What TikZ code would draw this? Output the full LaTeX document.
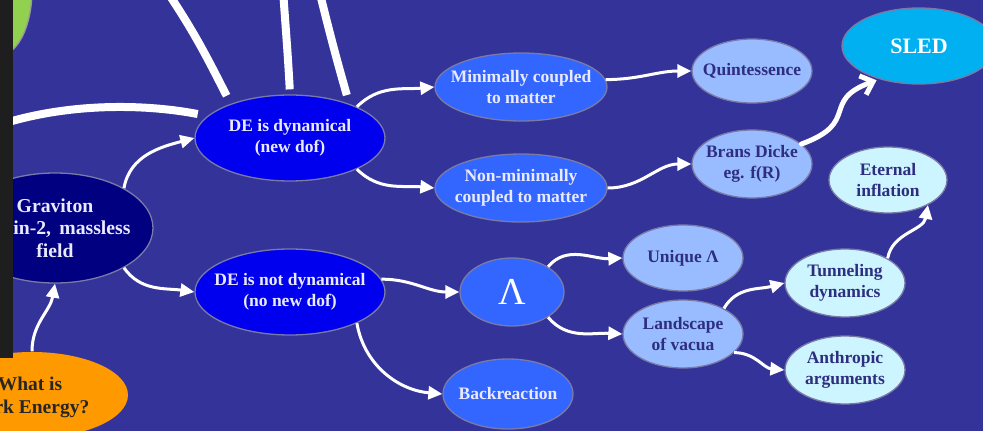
\documentclass[tikz,border=0pt]{standalone}
\usepackage{fontspec}
\setmainfont{Liberation Serif}[BoldFont={Liberation Serif Bold}]
\newfontfamily\dfont{Liberation Serif}[BoldFont={Liberation Serif Bold}]
\usetikzlibrary{shapes.geometric,arrows.meta}
\definecolor{bgc}{HTML}{333399}
\definecolor{navyc}{HTML}{000080}
\definecolor{deblue}{HTML}{0000EE}
\definecolor{midblue}{HTML}{3366FF}
\definecolor{lightblue}{HTML}{99BBFF}
\definecolor{lightcyan}{HTML}{CCF5FF}
\definecolor{sledc}{HTML}{00B0F0}
\definecolor{orangec}{HTML}{FF9900}
\definecolor{greenc}{HTML}{92D050}
\definecolor{txtlight}{HTML}{EAEAFF}
\definecolor{txtdark}{HTML}{2E2E80}
\definecolor{ndborder}{HTML}{7A7AA6}
\definecolor{panelc}{HTML}{1E1E1E}
\begin{document}
\begin{tikzpicture}[x=1pt,y=1pt,
  nd/.style={ellipse, draw=ndborder, line width=1.3pt, inner sep=0pt},
  tx/.style={inner sep=0pt, align=center, font=\dfont\bfseries\fontsize{17.5}{21.5}\selectfont},
  txl/.style={tx, text=txtlight},
  txd/.style={tx, text=txtdark},
  arr/.style={draw=white, line width=3pt, -{Triangle[length=14pt,width=13pt]}},
  fatline/.style={draw=white, line width=8pt}
]
\useasboundingbox (0,0) rectangle (983,-431);
\fill[bgc] (0,0) rectangle (983,-431);
\clip (0,0) rectangle (983,-431);

% partial green ellipse top-left
\draw[fill=greenc, draw=gray!80, line width=1.3pt] (0,10) ellipse [x radius=32pt, y radius=65pt];

% node shapes
\node[nd, fill=navyc, minimum width=196pt, minimum height=110pt] (grav) at (55,-228) {};
\node[nd, fill=orangec, draw=none, minimum width=192pt, minimum height=86pt] (wde) at (32,-395) {};
\node[nd, fill=deblue, minimum width=190pt, minimum height=86pt] (dedyn) at (290,-138) {};
\node[nd, fill=deblue, minimum width=190pt, minimum height=86pt] (dendyn) at (290,-292) {};
\node[nd, fill=midblue, minimum width=172pt, minimum height=68pt] (min) at (521,-87) {};
\node[nd, fill=midblue, minimum width=172pt, minimum height=68pt] (nonmin) at (521,-188) {};
\node[nd, fill=lightblue, minimum width=120pt, minimum height=64pt] (quint) at (752,-71) {};
\node[nd, fill=lightblue, minimum width=120pt, minimum height=68pt] (brans) at (752,-164) {};
\node[nd, fill=sledc, minimum width=154pt, minimum height=76pt] (sled) at (919,-46) {};
\node[nd, fill=lightcyan, minimum width=118pt, minimum height=66pt] (etern) at (888,-180) {};
\node[nd, fill=midblue, minimum width=104pt, minimum height=68pt] (lam) at (512,-292) {};
\node[nd, fill=lightblue, minimum width=120pt, minimum height=66pt] (uniq) at (683,-258) {};
\node[nd, fill=lightblue, minimum width=120pt, minimum height=68pt] (land) at (683,-334) {};
\node[nd, fill=midblue, minimum width=130pt, minimum height=70pt] (back) at (508,-394) {};
\node[nd, fill=lightcyan, minimum width=120pt, minimum height=68pt] (tun) at (845,-283) {};
\node[nd, fill=lightcyan, minimum width=120pt, minimum height=68pt] (anth) at (845,-370) {};

% node texts
\node[txl, font=\dfont\bfseries\fontsize{19.7}{22.5}\selectfont] (grav-t) at (grav) {Graviton\\\hspace*{12pt}Spin-2,\, massless\\field};
\node[tx, text=black!85, font=\dfont\bfseries\fontsize{19.5}{23}\selectfont] (wde-t) at ([xshift=-2pt,yshift=-2pt]wde) {What is\\Dark Energy?};
\node[txl] (dedyn-t) at (dedyn) {DE is dynamical\\(new dof)};
\node[txl] (dendyn-t) at (dendyn) {DE is not dynamical\\(no new dof)};
\node[txl] (min-t) at (min) {Minimally coupled\\to matter};
\node[txl] (nonmin-t) at (nonmin) {Non-minimally\\coupled to matter};
\node[txd] (quint-t) at (quint) {Quintessence};
\node[txd] (brans-t) at (brans) {Brans Dicke\\eg. f(R)};
\node[tx, text=white, font=\dfont\bfseries\fontsize{22}{26}\selectfont] (sled-t) at (sled) {SLED};
\node[txd] (etern-t) at (etern) {Eternal\\inflation};
\node[tx, text=white, font=\dfont\mdseries\fontsize{38}{40}\selectfont] (lam-t) at (lam) {Λ};
\node[txd] (uniq-t) at (uniq) {Unique Λ};
\node[txd] (land-t) at (land) {Landscape\\of vacua};
\node[txl] (back-t) at (back) {Backreaction};
\node[txd] (tun-t) at (tun) {Tunneling\\dynamics};
\node[txd] (anth-t) at (anth) {Anthropic\\arguments};

% thick white lines from outside
\coordinate (t1) at (166,10);
\coordinate (t2) at (283,10);
\coordinate (t3) at (319,10);
\coordinate (t4) at (-10,-128);
\draw[fatline, shorten >=9pt] (t1) to[out=-56,in=117] (dedyn.150);
\draw[fatline, shorten >=5pt] (t2) to[out=-86,in=93] (dedyn.90);
\draw[fatline, shorten >=9pt] (t3) to[out=-76,in=106] (dedyn.30);
\draw[fatline, shorten >=10pt] (t4) .. controls (60,-103) and (140,-103) .. (dedyn.165);

% arrows
\draw[arr] (grav.30) to[out=80,in=195] (dedyn.west);
\draw[arr] (grav.-30) to[out=-55,in=172] (dendyn.west);
\draw[arr] (wde.north) to[out=90,in=-100] (grav.south);
\draw[arr] (dedyn.25) to[out=45,in=185] (min.west);
\draw[arr] (dedyn.-25) to[out=-45,in=175] (nonmin.west);
\draw[arr] (min.5) to[out=0,in=180] (quint.west);
\draw[arr] (nonmin.east) to[out=0,in=180] (brans.west);
\draw[draw=white, line width=5pt, line cap=round, shorten >=3pt,
  -{Straight Barb[length=11pt,width=20pt]}] (brans.22) to[out=20,in=200,looseness=1.6] (sled.220);
\draw[arr] (tun.30) to[out=80,in=-100] (etern.-32);
\draw[arr] (dendyn.8) to[out=0,in=180] (lam.west);
\draw[arr] (dendyn.-25) to[out=-80,in=175] (back.west);
\draw[arr] (lam.35) to[out=50,in=183] (uniq.west);
\draw[arr] (lam.-35) to[out=-50,in=177] (land.west);
\draw[arr] (land.32) to[out=60,in=195] (tun.west);
\draw[arr] (land.-20) to[out=0,in=175] (anth.west);

% dark panel at left edge
\fill[panelc] (0,0) rectangle (13,-358);
\end{tikzpicture}
\end{document}
